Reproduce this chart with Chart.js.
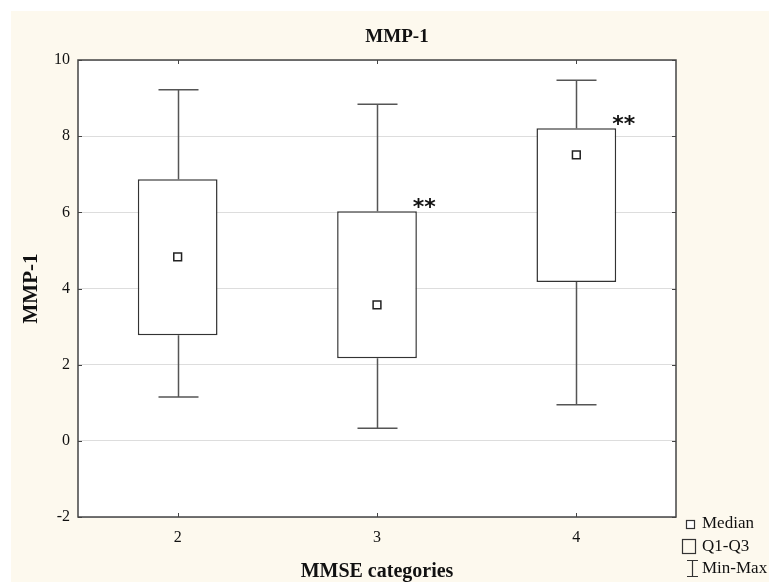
<!DOCTYPE html>
<html>
<head>
<meta charset="utf-8">
<script src="https://cdn.jsdelivr.net/npm/chart.js@4"></script>
<style>
  html, body { margin: 0; padding: 0; background: #fff; }
  #wrap { position: absolute; left: 11px; top: 11px; width: 758px; height: 571px; background: #fdf9ee; }
</style>
</head>
<body>
<div id="wrap"><canvas id="c" width="758" height="571"></canvas></div>
<script>
// ---- data ----
const categories = ["2", "3", "4"];
const mins    = [1.15, 0.33, 0.95];
const q1s     = [2.77, 2.17, 4.17];
const medians = [4.83, 3.57, 7.51];
const q3s     = [6.87, 6.03, 8.21];
const maxs    = [9.22, 8.84, 9.47];
const marks   = ["", "**", "**"];

const SERIF = "'Liberation Serif', 'Times New Roman', serif";
const INK = "#333";

/* plot background, frame, inner ticks, whiskers, stars, title, legend */
const boxExtras = {
  id: "boxExtras",
  beforeDraw(chart) {
    const { ctx, chartArea: a } = chart;
    ctx.save();
    ctx.fillStyle = "#fff";
    ctx.fillRect(a.left, a.top, a.right - a.left, a.bottom - a.top);
    ctx.restore();
  },
  beforeDatasetsDraw(chart) {
    const { ctx } = chart;
    const xs = chart.scales.x, ys = chart.scales.y;
    ctx.save();
    // whiskers
    ctx.strokeStyle = "#555";
    ctx.lineWidth = 1.5;
    categories.forEach((c, i) => {
      const x = Math.round(xs.getPixelForValue(i)) + 0.5;
      const yMin = ys.getPixelForValue(mins[i]);
      const yMax = ys.getPixelForValue(maxs[i]);
      ctx.beginPath();
      ctx.moveTo(x, ys.getPixelForValue(q1s[i])); ctx.lineTo(x, yMin);
      ctx.moveTo(x, ys.getPixelForValue(q3s[i])); ctx.lineTo(x, yMax);
      ctx.moveTo(x - 20, yMin); ctx.lineTo(x + 20, yMin);
      ctx.moveTo(x - 20, yMax); ctx.lineTo(x + 20, yMax);
      ctx.stroke();
    });
    ctx.restore();
  },
  afterDraw(chart) {
    const { ctx, chartArea: a } = chart;
    const xs = chart.scales.x, ys = chart.scales.y;
    ctx.save();

    // frame
    ctx.strokeStyle = "#444";
    ctx.lineWidth = 1.5;
    ctx.strokeRect(a.left, a.top, a.right - a.left, a.bottom - a.top);

    // inner ticks on all sides
    ctx.lineWidth = 1;
    ctx.beginPath();
    ys.ticks.forEach(t => {
      const y = Math.round(ys.getPixelForValue(t.value)) + 0.5;
      ctx.moveTo(a.left, y); ctx.lineTo(a.left + 4, y);
      ctx.moveTo(a.right, y); ctx.lineTo(a.right - 4, y);
    });
    categories.forEach((c, i) => {
      const x = Math.round(xs.getPixelForValue(i)) + 0.5;
      ctx.moveTo(x, a.top); ctx.lineTo(x, a.top + 4);
      ctx.moveTo(x, a.bottom); ctx.lineTo(x, a.bottom - 4);
    });
    ctx.stroke();

    // significance stars
    const bars = chart.getDatasetMeta(0).data;
    ctx.fillStyle = "#111";
    ctx.font = "bold 22px 'DejaVu Sans', sans-serif";
    ctx.textAlign = "left";
    ctx.textBaseline = "alphabetic";
    marks.forEach((m, i) => {
      if (!m) return;
      const b = bars[i];
      ctx.fillText(m, b.x + b.width / 2 - 4, ys.getPixelForValue(q3s[i]) + 3);
    });

    // title
    ctx.fillStyle = "#111";
    ctx.font = "bold 19px " + SERIF;
    ctx.textAlign = "center";
    ctx.textBaseline = "middle";
    ctx.fillText("MMP-1", 386, 26);

    // legend
    ctx.font = "17px " + SERIF;
    ctx.textAlign = "left";
    ctx.strokeStyle = "#333";
    ctx.lineWidth = 1.2;
    ctx.fillStyle = "#fff";
    ctx.fillRect(675.5, 509.5, 8, 8);
    ctx.strokeRect(675.5, 509.5, 8, 8);
    ctx.fillStyle = "#111";
    ctx.fillText("Median", 691, 513);
    ctx.strokeRect(671.5, 528.5, 13, 14);
    ctx.fillText("Q1-Q3", 691, 536);
    ctx.beginPath();
    ctx.moveTo(681.5, 549); ctx.lineTo(681.5, 566);
    ctx.moveTo(676, 549.5); ctx.lineTo(687, 549.5);
    ctx.moveTo(676, 565.5); ctx.lineTo(687, 565.5);
    ctx.stroke();
    ctx.fillText("Min-Max", 691, 558);

    ctx.restore();
  }
};

new Chart(document.getElementById("c"), {
  data: {
    labels: categories,
    datasets: [
      {
        type: "bar",
        label: "Q1-Q3",
        order: 2,
        data: q1s.map((q, i) => [q, q3s[i]]),
        backgroundColor: "#fff",
        borderColor: INK,
        borderWidth: 1.5,
        borderSkipped: false,
        barPercentage: 0.4,
        categoryPercentage: 1,
      },
      {
        type: "line",
        label: "Median",
        order: 1,
        data: medians,
        showLine: false,
        pointStyle: "rect",
        pointRadius: 5.5,
        pointBackgroundColor: "#fff",
        pointBorderColor: "#222",
        pointBorderWidth: 1.5,
      },
    ],
  },
  options: {
    responsive: false,
    animation: false,
    layout: { padding: { top: 49, right: 93, left: 0, bottom: 0 } },
    plugins: { legend: { display: false }, tooltip: { enabled: false }, title: { display: false } },
    scales: {
      x: {
        type: "category",
        offset: true,
        afterFit: s => { s.height = 65; },
        grid: { display: false, drawTicks: false },
        border: { display: false },
        ticks: { color: "#111", padding: 11, font: { family: SERIF, size: 16 } },
        title: {
          display: true, text: "MMSE categories", color: "#111",
          font: { family: SERIF, size: 20, weight: "bold", lineHeight: 1 },
          padding: { top: 0, bottom: 0 },
        },
      },
      y: {
        min: -2, max: 10,
        afterFit: s => { s.width = 67; },
        grid: { color: "#ddd", lineWidth: 1, drawTicks: false },
        border: { display: false },
        ticks: { stepSize: 2, color: "#111", padding: 8, font: { family: SERIF, size: 16 } },
        title: {
          display: true, text: "MMP-1", color: "#111",
          font: { family: SERIF, size: 21, weight: "bold", lineHeight: 1.2 },
          padding: { top: 8, bottom: 0 },
        },
      },
    },
  },
  plugins: [boxExtras],
});
</script>
</body>
</html>
